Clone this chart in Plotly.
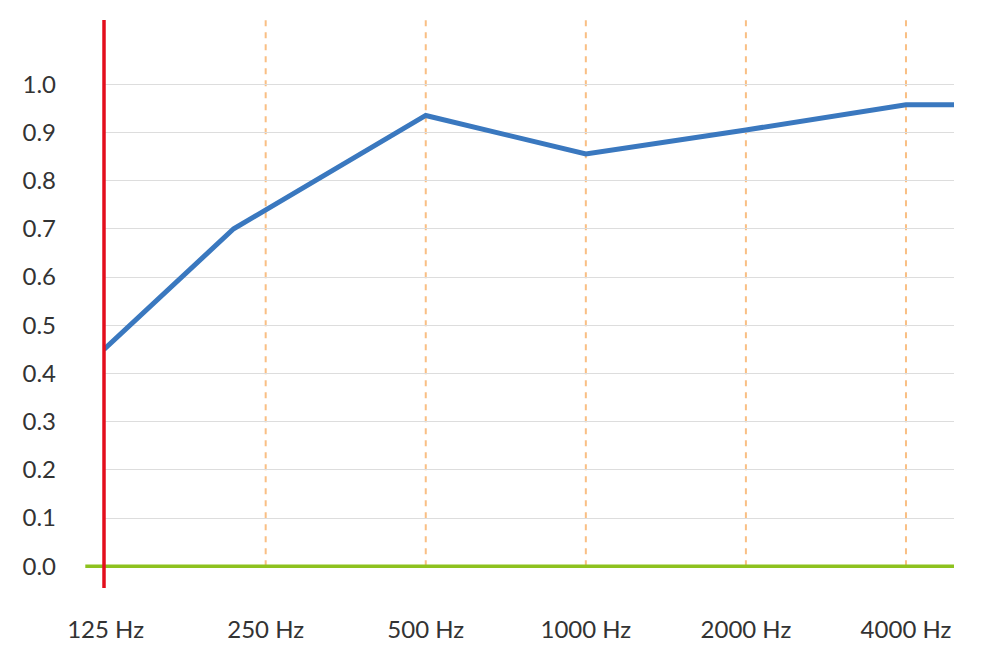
import plotly.graph_objects as go

# Data
categories = ["125 Hz", "250 Hz", "500 Hz", "1000 Hz", "2000 Hz", "4000 Hz"]
cat_pos = [0, 1, 2, 3, 4, 5]
curve_x = [-0.01, 0.8, 2, 3, 4, 5, 5.3]
curve_y = [0.45, 0.70, 0.935, 0.855, 0.905, 0.957, 0.957]
y_ticks = [0.0, 0.1, 0.2, 0.3, 0.4, 0.5, 0.6, 0.7, 0.8, 0.9, 1.0]
y_labels = ["0.0", "0.1", "0.2", "0.3", "0.4", "0.5", "0.6", "0.7", "0.8", "0.9", "1.0"]

X_MIN, X_MAX = -0.01, 5.3
Y_MIN, Y_MAX = -0.045, 1.133

fig = go.Figure()

# orange dashed verticals
for p in cat_pos[1:]:
    fig.add_shape(type="line", xref="x", yref="y", x0=p, x1=p, y0=0, y1=Y_MAX,
                  line=dict(color="#f9bf84", width=2, dash="6px,6px"), layer="below")

fig.add_trace(go.Scatter(x=curve_x, y=curve_y, mode="lines",
                         line=dict(color="#3a78bf", width=5), showlegend=False,
                         hoverinfo="skip"))

# green baseline
fig.add_shape(type="line", xref="paper", yref="y", x0=-0.022, x1=1, y0=0, y1=0,
              line=dict(color="#8dc21f", width=3.5))
# red vertical axis
fig.add_shape(type="line", xref="paper", yref="paper", x0=0.0, x1=0.0, y0=0, y1=1,
              line=dict(color="#e30e1c", width=3.5))

fig.update_layout(
    width=1000, height=666,
    margin=dict(l=96, r=54, t=12, b=86),
    plot_bgcolor="white", paper_bgcolor="white",
    font=dict(family="Lato", size=24, color="#333333"),
    xaxis=dict(range=[X_MIN, X_MAX], tickvals=cat_pos, ticktext=categories,
               showgrid=False, zeroline=False, showline=False, ticks="",
               ticklabelstandoff=25, fixedrange=True),
    yaxis=dict(range=[Y_MIN, Y_MAX], tickvals=y_ticks, ticktext=y_labels,
               showgrid=True, gridcolor="#dddddd", gridwidth=1,
               zeroline=False, showline=False, ticks="",
               ticklabelstandoff=47, fixedrange=True),
)

fig.write_html("out.html")
